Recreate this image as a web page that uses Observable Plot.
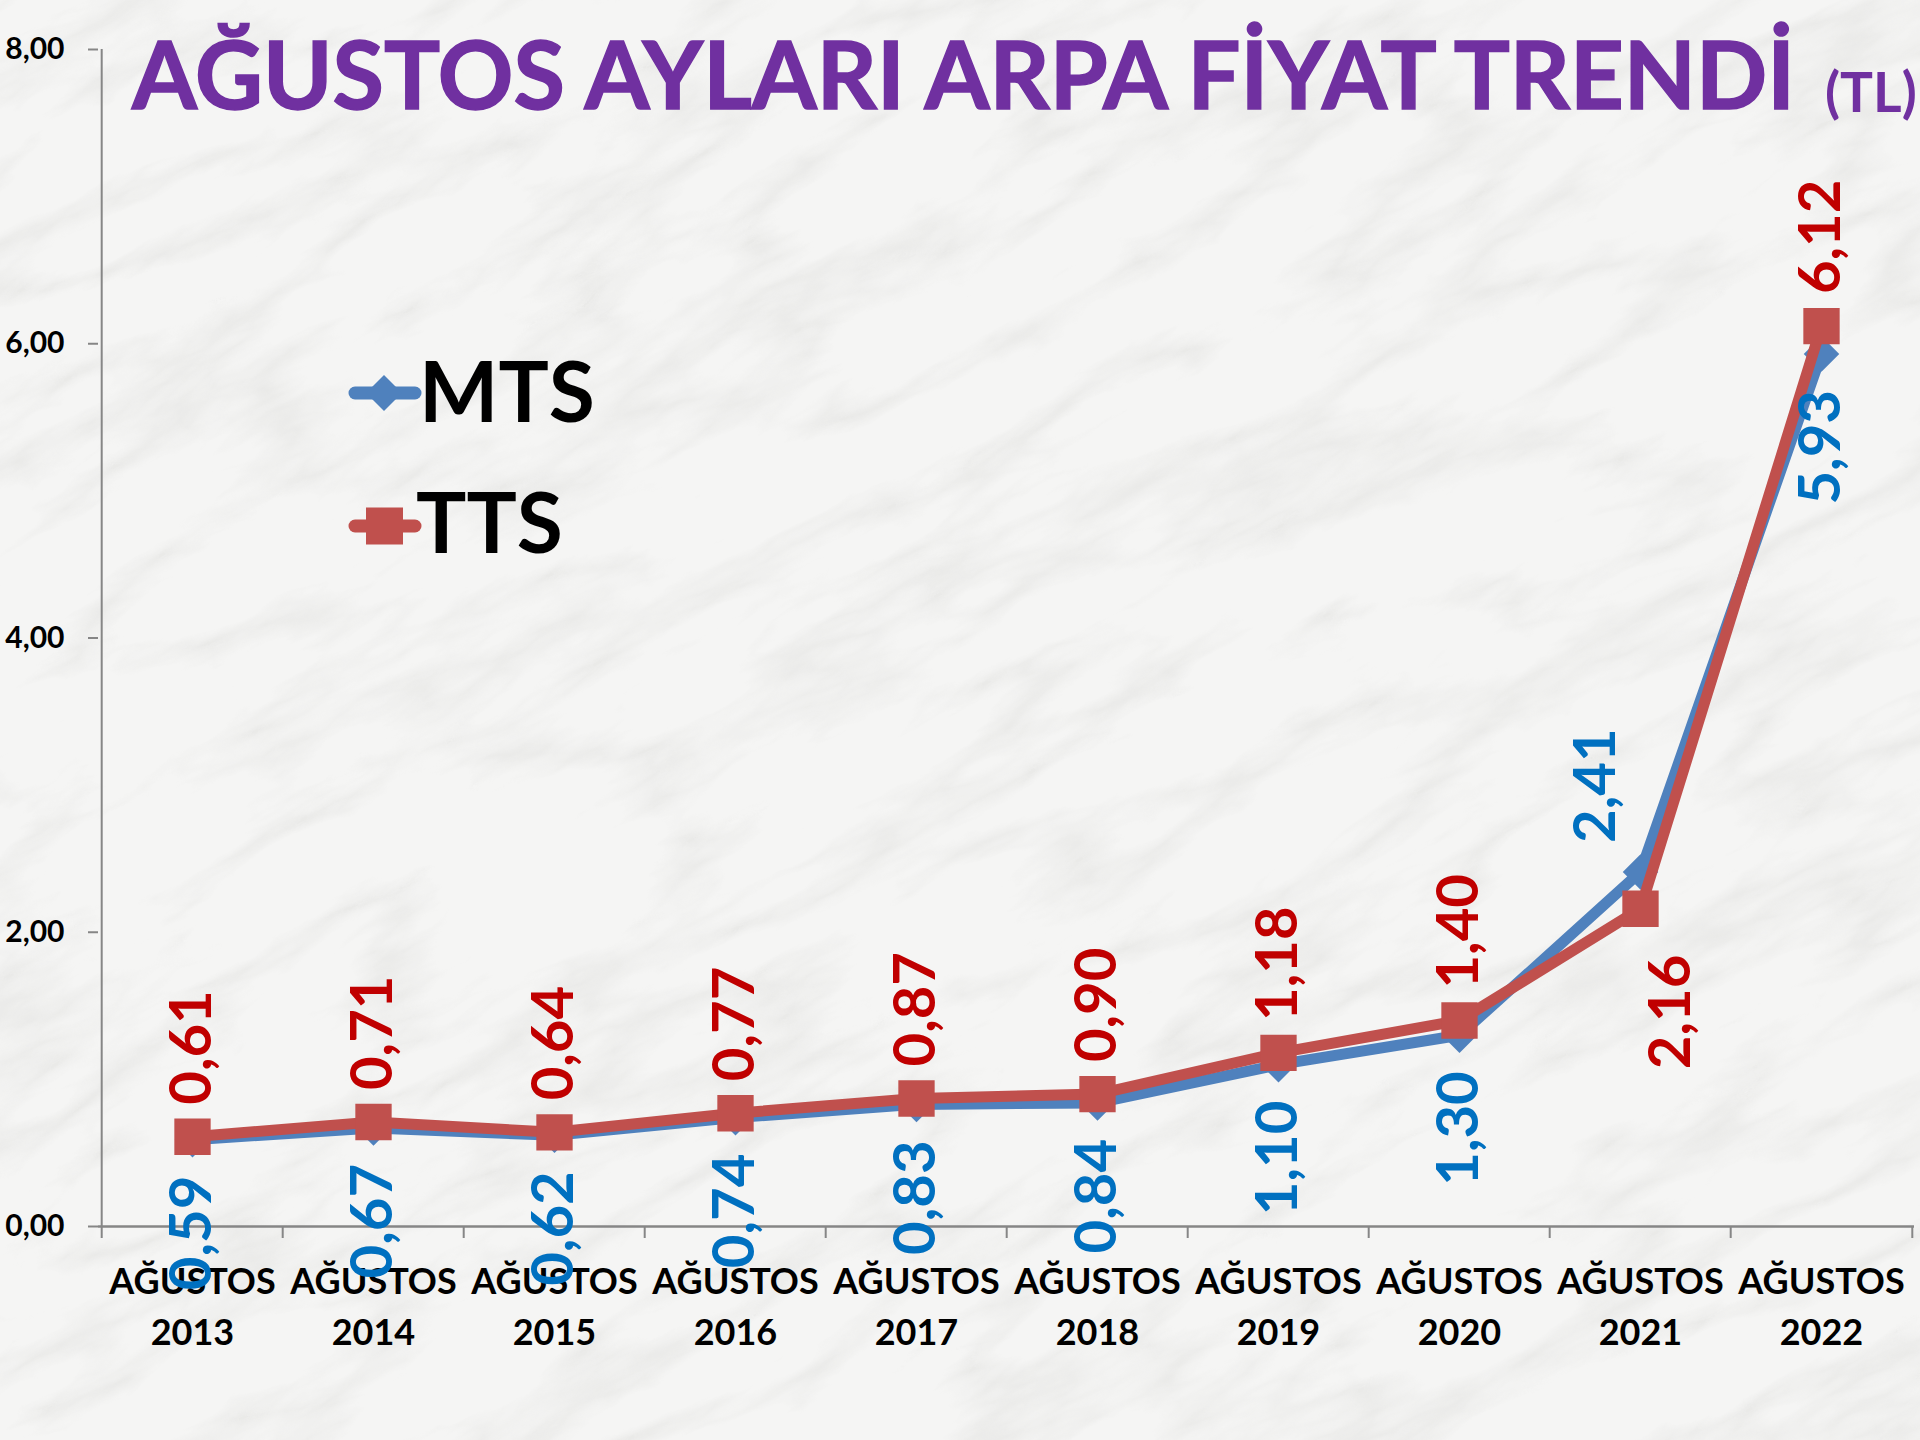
<!DOCTYPE html>
<html>
<head>
<meta charset="utf-8">
<script src="https://cdn.jsdelivr.net/npm/d3@7"></script>
<script src="https://cdn.jsdelivr.net/npm/@observablehq/plot@0.6"></script>
<style>
html, body { margin: 0; padding: 0; width: 1920px; height: 1440px; overflow: hidden; background: #f4f4f3; }
#wrap { position: relative; width: 1920px; height: 1440px; font-family: Lato, "Open Sans", sans-serif; }
#bg, #chart, #over { position: absolute; left: 0; top: 0; }
#over { pointer-events: none; }
</style>
</head>
<body>
<div id="wrap">
  <svg id="bg" width="1920" height="1440">
    <defs>
      <filter id="marble" x="0" y="0" width="100%" height="100%">
        <feTurbulence type="turbulence" baseFrequency="0.003 0.01" numOctaves="5" seed="7" result="t"/>
        <feColorMatrix in="t" type="matrix" values="0 0 0 0 0.6  0 0 0 0 0.6  0 0 0 0 0.58  -1.8 0 0 0 0.55"/>
      </filter>
    </defs>
    <rect width="1920" height="1440" fill="#f5f5f4"/>
    <g transform="rotate(-28 960 720)" opacity="0.5">
      <rect x="-600" y="-600" width="3120" height="2640" filter="url(#marble)"/>
    </g>
  </svg>
  <div id="chart"></div>
  <svg id="over" width="1920" height="1440"></svg>
</div>
<script>
// ---- data ----
const years = ["2013", "2014", "2015", "2016", "2017", "2018", "2019", "2020", "2021", "2022"];
const monthLabel = "AĞUSTOS";
const mtsValues = [0.59, 0.67, 0.62, 0.74, 0.83, 0.84, 1.10, 1.30, 2.41, 5.93];
const ttsValues = [0.61, 0.71, 0.64, 0.77, 0.87, 0.90, 1.18, 1.40, 2.16, 6.12];
const seriesNames = ["MTS", "TTS"];
const yTicks = [0, 2, 4, 6, 8];
const titleText = "AĞUSTOS AYLARI ARPA FİYAT TRENDİ";
const titleUnit = "(TL)";

// ---- styling ----
const W = 1920, H = 1440;
const mL = 98, mR = 6, mT = 49, mB = 214;
const step = (W - mL - mR) / years.length;
const axisGray = "#868686";
const mtsLine = "#4F81BD", ttsLine = "#C0504D";
const mtsText = "#0070C0", ttsText = "#C00000";
const fmt = v => v.toFixed(2).replace(".", ",");

const mtsRows = years.map((year, i) => ({year, value: mtsValues[i]}));
const ttsRows = years.map((year, i) => ({year, value: ttsValues[i]}));
// the higher series gets its label above the point, the lower one below
const crossing = i => mtsValues[i] > ttsValues[i];

const labelFont = {fontSize: 58, fontWeight: "bold", rotate: -90, lineAnchor: "middle"};

const plot = Plot.plot({
  width: W,
  height: H,
  marginLeft: mL,
  marginRight: mR,
  marginTop: mT,
  marginBottom: mB,
  style: {background: "transparent", fontFamily: "Lato, 'Open Sans', sans-serif", fontWeight: "bold", overflow: "visible"},
  x: {type: "point", domain: years, padding: 0.5, axis: null, label: null},
  y: {domain: [0, 8], axis: null, label: null},
  marks: [
    // y axis line
    Plot.ruleX([years[0]], {x: d => d, dx: -step / 2, y1: 0, y2: 8, stroke: axisGray, strokeWidth: 2}),
    // x baseline
    Plot.ruleY([0], {stroke: axisGray, strokeWidth: 2.5}),
    // category boundary ticks
    Plot.axisX({ticks: years, tickSize: 12, tickFormat: () => "", label: null, dx: -step / 2, stroke: axisGray, strokeWidth: 2}),
    Plot.axisX({ticks: [years[years.length - 1]], tickSize: 12, tickFormat: () => "", label: null, dx: step / 2, stroke: axisGray, strokeWidth: 2}),
    // category labels
    Plot.axisX({ticks: years, tickSize: 0, tickPadding: 31, tickFormat: d => monthLabel + "\n" + d, label: null,
      fontSize: 36, lineHeight: 1.42, fill: "black", fontWeight: "bold"}),
    // y axis
    Plot.axisY({ticks: yTicks, tickSize: 10, tickPadding: 24, tickFormat: fmt, fontSize: 30, label: null,
      stroke: axisGray, strokeWidth: 2, fill: "black", fontWeight: "bold"}),
    // MTS
    Plot.line(mtsRows, {x: "year", y: "value", stroke: mtsLine, strokeWidth: 11, strokeLinejoin: "round"}),
    Plot.dot(mtsRows, {x: "year", y: "value", symbol: "diamond2", r: 16, fill: mtsLine, stroke: "none"}),
    // TTS
    Plot.line(ttsRows, {x: "year", y: "value", stroke: ttsLine, strokeWidth: 11, strokeLinejoin: "round"}),
    Plot.dot(ttsRows, {x: "year", y: "value", symbol: "square", r: 20.5, fill: ttsLine, stroke: "none"}),
    // labels: normal (TTS above, MTS below)
    Plot.text(ttsRows.filter((d, i) => !crossing(i)), {x: "year", y: "value", text: d => fmt(d.value),
      fill: ttsText, textAnchor: "start", dy: -32, ...labelFont}),
    Plot.text(mtsRows.filter((d, i) => !crossing(i)), {x: "year", y: "value", text: d => fmt(d.value),
      fill: mtsText, textAnchor: "end", dy: 36, ...labelFont}),
    // labels where MTS is higher
    Plot.text(mtsRows.filter((d, i) => crossing(i)), {x: "year", y: "value", text: d => fmt(d.value),
      fill: mtsText, textAnchor: "start", dx: -44, dy: -29, ...labelFont}),
    Plot.text(ttsRows.filter((d, i) => crossing(i)), {x: "year", y: "value", text: d => fmt(d.value),
      fill: ttsText, textAnchor: "end", dx: 31, dy: 46, ...labelFont})
  ]
});
document.getElementById("chart").appendChild(plot);

// ---- title and legend overlay ----
const over = d3.select("#over");
over.append("text")
  .attr("x", 132).attr("y", 109)
  .attr("font-family", "Lato, 'Open Sans', sans-serif")
  .attr("font-weight", "bold").attr("font-size", 94)
  .attr("fill", "#7030A0")
  .attr("stroke", "#7030A0").attr("stroke-width", 1.5)
  .attr("textLength", 1663).attr("lengthAdjust", "spacingAndGlyphs")
  .text(titleText);
over.append("text")
  .attr("x", 1825).attr("y", 112)
  .attr("font-family", "Lato, 'Open Sans', sans-serif")
  .attr("font-weight", "bold").attr("font-size", 55)
  .attr("fill", "#7030A0")
  .text(titleUnit);

const legendColors = [mtsLine, ttsLine];
const legendSymbols = ["diamond", "square"];
const lg = over.append("g").attr("font-family", "Lato, 'Open Sans', sans-serif").attr("font-weight", "bold");
seriesNames.forEach((name, i) => {
  const cy = i === 0 ? 393 : 526;
  const g = lg.append("g");
  g.append("line").attr("x1", 355).attr("x2", 415).attr("y1", cy).attr("y2", cy)
    .attr("stroke", legendColors[i]).attr("stroke-width", 13).attr("stroke-linecap", "round");
  if (legendSymbols[i] === "diamond") {
    g.append("path").attr("d", `M384,${cy - 18}L402,${cy}L384,${cy + 18}L366,${cy}Z`).attr("fill", legendColors[i]);
  } else {
    g.append("rect").attr("x", 366).attr("y", cy - 18.5).attr("width", 37).attr("height", 37).attr("fill", legendColors[i]);
  }
  g.append("text").attr("x", i === 0 ? 419 : 416).attr("y", cy + (i === 0 ? 29 : 27))
    .attr("font-size", 84).attr("fill", "black").text(name);
});
</script>
</body>
</html>
